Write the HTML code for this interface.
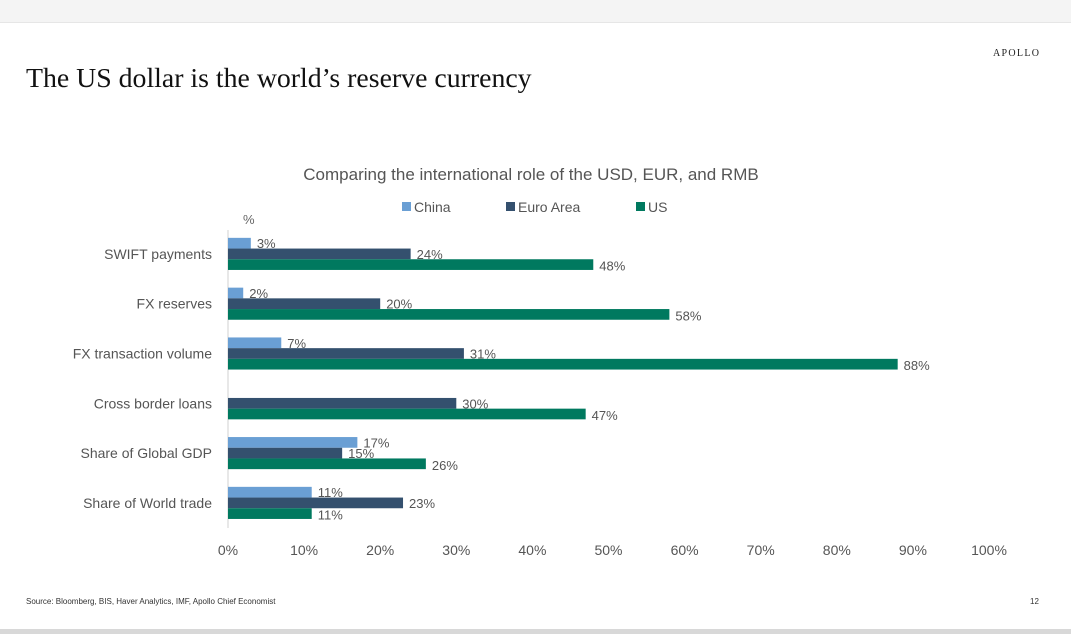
<!DOCTYPE html>
<html><head><meta charset="utf-8"><style>
body{margin:0;width:1071px;height:634px;background:#fff;overflow:hidden;position:relative;font-family:"Liberation Sans",sans-serif}
#topbar{position:absolute;left:0;top:0;width:1071px;height:22px;background:#f4f4f4;border-bottom:1px solid #e6e6e6}
#botbar{position:absolute;left:0;top:629px;width:1071px;height:5px;background:#d8d8d8}
#title{position:absolute;left:26px;top:63px;font-family:"Liberation Serif",serif;font-size:27.8px;color:#111}
#logo{position:absolute;left:993px;top:48px;font-family:"Liberation Serif",serif;font-size:10px;letter-spacing:1.3px;color:#222}
#src{position:absolute;left:26px;top:597px;font-size:8px;color:#333}
#pg{position:absolute;left:1030px;top:597px;font-size:8px;color:#333}
</style></head><body>
<div id="topbar"></div>
<div id="logo">APOLLO</div>
<div id="title">The US dollar is the world’s reserve currency</div>
<svg id="chart" width="1071" height="634" style="position:absolute;left:0;top:0" font-family="Liberation Sans, sans-serif"></svg>
<div id="src">Source: Bloomberg, BIS, Haver Analytics, IMF, Apollo Chief Economist</div>
<div id="pg">12</div>
<div id="botbar"></div>
<script>
const categories=["SWIFT payments","FX reserves","FX transaction volume","Cross border loans","Share of Global GDP","Share of World trade"];
const china=[3,2,7,0,17,11];
const euro=[24,20,31,30,15,23];
const us=[48,58,88,47,26,11];
const ticks=[0,10,20,30,40,50,60,70,80,90,100];
const seriesNames=["China","Euro Area","US"];
const colors=["#6a9fd4","#34506e","#00795f"];
const NS="http://www.w3.org/2000/svg";
const svg=document.getElementById('chart');
const x0=228,x1=989,yTop=229,rowH=49.8,barH=10.7;
const xs=v=>x0+(x1-x0)*v/100;
function mk(t,a,txt){const e=document.createElementNS(NS,t);for(const k in a)e.setAttribute(k,a[k]);if(txt!==undefined)e.textContent=txt;svg.appendChild(e);return e;}
let e;
e=mk('text',{x:531,y:180,'text-anchor':'middle','font-size':17,fill:'#555'},"Comparing the international role of the USD, EUR, and RMB");


const legX=[402,506,636];
seriesNames.forEach((n,i)=>{
 const r=mk('rect',{x:legX[i],y:202,width:9,height:9,fill:colors[i]});
 
 
 const t=mk('text',{x:legX[i]+12,y:212,'font-size':14,fill:'#555'},n);
 
 
});
e=mk('text',{x:243,y:224,'font-size':13,fill:'#666'},"%");


e=mk('line',{x1:x0,y1:230,x2:x0,y2:528,stroke:'#d0d0d0','stroke-width':1});


ticks.forEach(t=>{
 const l=mk('text',{x:xs(t),y:555,'text-anchor':'middle','font-size':14,fill:'#555'},t+'%');
 
 
});
const data=[china,euro,us];
categories.forEach((c,ci)=>{
 const cy=yTop+ci*rowH+rowH/2;
 const l=mk('text',{x:212,y:cy+5,'text-anchor':'end','font-size':14,fill:'#555'},c);
 
 
 data.forEach((s,si)=>{
  const v=s[ci];
  if(!v)return;
  const y=cy-barH*1.5+si*barH;
  const r=mk('rect',{x:x0,y:y,width:xs(v)-x0,height:barH,fill:colors[si]});
  
  
  const t=mk('text',{x:xs(v)+6,y:y+barH/2+(si==2?6:5),'font-size':13,fill:'#555'},v+'%');
  
  
 });
});
</script>
</body></html>
